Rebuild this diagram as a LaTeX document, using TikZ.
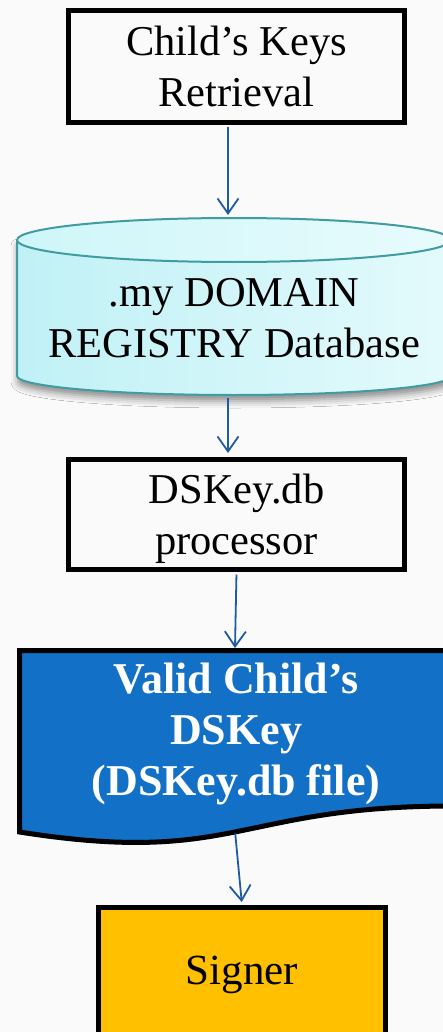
\documentclass[tikz,border=0pt]{standalone}
\usepackage{fontspec}
\setmainfont{Liberation Serif}
\usetikzlibrary{arrows.meta,shadows.blur}

\definecolor{bgcol}{RGB}{250,250,250}
\definecolor{arrowblue}{RGB}{31,91,165}
\definecolor{docblue}{RGB}{18,112,198}
\definecolor{signyellow}{RGB}{255,192,0}
\definecolor{cylline}{RGB}{64,156,160}
\definecolor{cylA}{RGB}{192,241,246}
\definecolor{cylB}{RGB}{170,236,243}
\definecolor{cylC}{RGB}{228,250,252}
\definecolor{cyltopA}{RGB}{206,246,249}
\definecolor{cyltopB}{RGB}{232,251,252}

\begin{document}
\begin{tikzpicture}[x=1pt,y=-1pt,
  txt/.style={inner sep=0pt, align=center, font=\fontsize{42.5}{51}\selectfont},
  box/.style={txt, draw=black, line width=5pt},
  arr/.style={draw=arrowblue, line width=1.8pt, shorten <=2.5pt,
              -{Straight Barb[length=15pt,width=21pt]}}]

% page
\fill[bgcol] (0,0) rectangle (443,1032);
\useasboundingbox (0,0) rectangle (443,1032);
\clip (0,0) rectangle (443,1032);

% first process box
\node[box, minimum width=336pt, minimum height=112pt] (b1) at (236.5,66.5)
  {Child’s Keys\\Retrieval};

% database cylinder
\path[blur shadow={shadow xshift=1pt,shadow yshift=-6pt,shadow blur radius=7pt,shadow opacity=45},
      left color=cylA, middle color=cylB, right color=cylC]
  (17,240) -- (17,376) arc[start angle=180,end angle=360,x radius=217pt,y radius=19pt]
  -- (451,240) -- cycle;
\draw[cylline, line width=2pt]
  (17,240) -- (17,376) arc[start angle=180,end angle=360,x radius=217pt,y radius=19pt]
  -- (451,240);
\draw[cylline, line width=2pt, left color=cyltopA, right color=cyltopB]
  (234,240) ellipse[x radius=217pt, y radius=22pt];
\node[txt] (db) at (234,318.4) {.my DOMAIN\\REGISTRY Database};
\coordinate (dbtop) at (228,215);
\coordinate (dbbot) at (228,395);

% processor box
\node[box, minimum width=336pt, minimum height=110pt] (b3) at (236.5,514.5)
  {DSKey.db\\\smash{processor}};

% document shape
\draw[black, line width=5pt, fill=docblue]
  (19.5,650.5) -- (453,650.5) -- (453,806)
  .. controls (236,806) and (236,866) .. (19.5,832) -- cycle;
\node[txt, text=white, font=\fontsize{44}{51}\selectfont\bfseries] (dk) at (236,729.2)
  {Valid Child’s\\DSKey\\\smash{(DSKey.db file)}};
\coordinate (doctop) at (235,648);
\coordinate (docbot) at (235,831);

% signer box
\node[box, fill=signyellow, minimum width=287pt, minimum height=135.4pt,
      font=\fontsize{43}{51}\selectfont] (sig) at (242,975.2) {Signer};

% connectors
\draw[arr] ([xshift=-8.5pt]b1.south) -- (dbtop);
\draw[arr, shorten >=4pt] (dbbot) -- ([xshift=-8.5pt]b3.north);
\draw[arr] (b3.south) -- (doctop);
\draw[arr, shorten >=3pt] (docbot) -- (sig.north);
\end{tikzpicture}
\end{document}
